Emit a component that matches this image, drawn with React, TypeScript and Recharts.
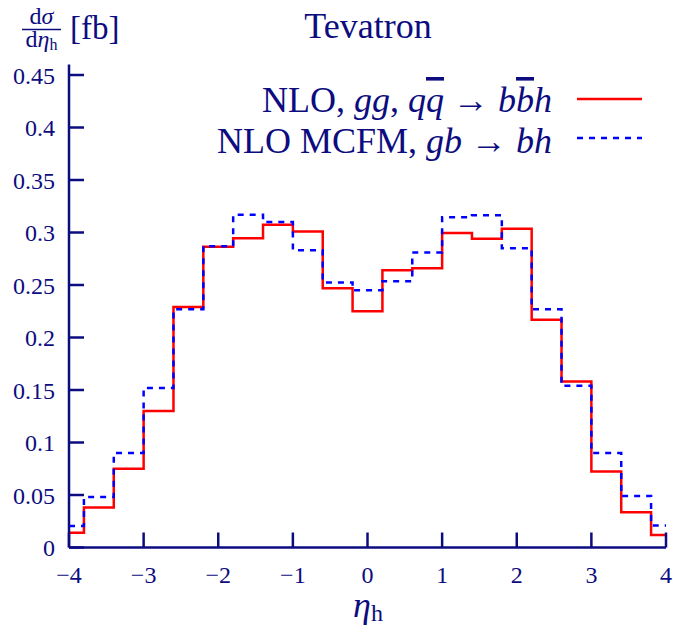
import React from "react";
import { LineChart, Line, XAxis, YAxis } from "recharts";

// bin centres of the eta_h histogram (width 0.4, end bins clipped at +-4)
const binCenters = [-4, -3.6, -3.2, -2.8, -2.4, -2, -1.6, -1.2, -0.8, -0.4, 0, 0.4, 0.8, 1.2, 1.6, 2, 2.4, 2.8, 3.2, 3.6, 4];

// NLO, gg,qqbar -> bbbar h  (red, solid)
const nloBbh = [0.014, 0.038, 0.075, 0.13, 0.229, 0.2865, 0.2945, 0.3075, 0.301, 0.247, 0.225, 0.264, 0.266, 0.2995, 0.294, 0.3035, 0.217, 0.158, 0.0725, 0.0335, 0.012];

// NLO MCFM, gb -> bh  (blue, dashed)
const mcfmBh = [0.0205, 0.048, 0.09, 0.152, 0.227, 0.287, 0.317, 0.31, 0.283, 0.2525, 0.245, 0.2535, 0.281, 0.3145, 0.3165, 0.285, 0.227, 0.154, 0.09, 0.049, 0.021];

const xTicks = [-4, -3, -2, -1, 0, 1, 2, 3, 4];
const yTicks = [0, 0.05, 0.1, 0.15, 0.2, 0.25, 0.3, 0.35, 0.4, 0.45];

const NAVY = "#0c0c80";
const FONT = "'Liberation Serif', 'DejaVu Serif', serif";

// turn bin values into points for a stepAfter line (left edges + closing right edge)
function toSteps(values: number[]) {
  const half = (binCenters[1] - binCenters[0]) / 2;
  const lo = binCenters[0];
  const hi = binCenters[binCenters.length - 1];
  const pts = values.map((v, i) => ({ x: Math.max(lo, binCenters[i] - half), y: v }));
  pts.push({ x: hi, y: values[values.length - 1] });
  return pts;
}

const fmtX = (v: number) => (v < 0 ? "\u2212" + Math.abs(v) : String(v));
const fmtY = (v: number) => (v === 0 ? "0" : String(Number(v.toFixed(2))));

const tickFont = { fill: NAVY, fontSize: 24, fontFamily: FONT };
const axisStroke = { stroke: NAVY, strokeWidth: 2.5 };

export default function App() {
  return (
    <div
      style={{ position: "absolute", left: 0, top: 0, width: 673, height: 637, background: "#fff", fontFamily: FONT }}
    >
      <LineChart width={673} height={637} margin={{ top: 64.5, right: 7, bottom: 39.5, left: 9 }}>
        <XAxis
          type="number"
          dataKey="x"
          domain={[-4, 4]}
          ticks={xTicks}
          allowDataOverflow
          height={50}
          tickFormatter={fmtX}
          tick={tickFont}
          tickSize={-15}
          tickMargin={33}
          axisLine={axisStroke}
          tickLine={axisStroke}
        />
        <XAxis
          xAxisId="top"
          orientation="top"
          type="number"
          domain={[-4, 4]}
          ticks={xTicks}
          allowDataOverflow
          height={0}
          tick={false}
          tickSize={-15}
          axisLine={axisStroke}
          tickLine={axisStroke}
        />
        <YAxis
          type="number"
          domain={[0, 0.46]}
          ticks={yTicks}
          allowDataOverflow
          width={60}
          tickFormatter={fmtY}
          tick={tickFont}
          tickSize={-15}
          tickMargin={29}
          axisLine={axisStroke}
          tickLine={axisStroke}
        />
        <YAxis
          yAxisId="right"
          orientation="right"
          type="number"
          domain={[0, 0.46]}
          ticks={yTicks}
          allowDataOverflow
          width={0}
          tick={false}
          tickSize={-15}
          axisLine={axisStroke}
          tickLine={axisStroke}
        />
        <Line
          data={toSteps(nloBbh)}
          dataKey="y"
          type="stepAfter"
          stroke="#ff0000"
          strokeWidth={2.5}
          dot={false}
          isAnimationActive={false}
        />
        <Line
          data={toSteps(mcfmBh)}
          dataKey="y"
          type="stepAfter"
          stroke="#0000ff"
          strokeWidth={2.5}
          strokeDasharray="6 6"
          dot={false}
          isAnimationActive={false}
        />
      </LineChart>

      <svg
        width={673}
        height={637}
        style={{ position: "absolute", left: 0, top: 0, pointerEvents: "none" }}
        fontFamily={FONT}
        fill={NAVY}
      >
        {/* title */}
        <text x={368} y={38} textAnchor="middle" fontSize={36}>Tevatron</text>

        {/* y-axis label: dσ/dη_h [fb] */}
        <text x={41.5} y={24} textAnchor="middle" fontSize={24}>
          d<tspan fontStyle="italic">σ</tspan>
        </text>
        <line x1={22} x2={61} y1={29.5} y2={29.5} stroke={NAVY} strokeWidth={1.5} />
        <text x={41.5} y={47} textAnchor="middle" fontSize={24}>
          d<tspan fontStyle="italic">η</tspan>
          <tspan fontSize={16} dy={3}>h</tspan>
        </text>
        <text x={70} y={39} fontSize={33}>[fb]</text>

        {/* legend */}
        <text x={552} y={112} textAnchor="end" fontSize={36}>
          NLO, <tspan fontStyle="italic">gg</tspan>, <tspan fontStyle="italic">q</tspan>
          <tspan fontStyle="italic" textDecoration="overline">q</tspan> → <tspan fontStyle="italic">b</tspan>
          <tspan fontStyle="italic" textDecoration="overline">b</tspan>
          <tspan fontStyle="italic">h</tspan>
        </text>
        <line x1={577} x2={642} y1={99} y2={99} stroke="#ff0000" strokeWidth={2.5} />
        <text x={552} y={153} textAnchor="end" fontSize={36}>
          NLO MCFM, <tspan fontStyle="italic">gb</tspan> → <tspan fontStyle="italic">bh</tspan>
        </text>
        <line x1={577} x2={642} y1={138} y2={138} stroke="#0000ff" strokeWidth={2.5} strokeDasharray="6 6" />

        {/* x-axis label */}
        <text x={368} y={617} textAnchor="middle" fontSize={36}>
          <tspan fontStyle="italic">η</tspan>
          <tspan fontSize={24} dy={4}>h</tspan>
        </text>
      </svg>
    </div>
  );
}
